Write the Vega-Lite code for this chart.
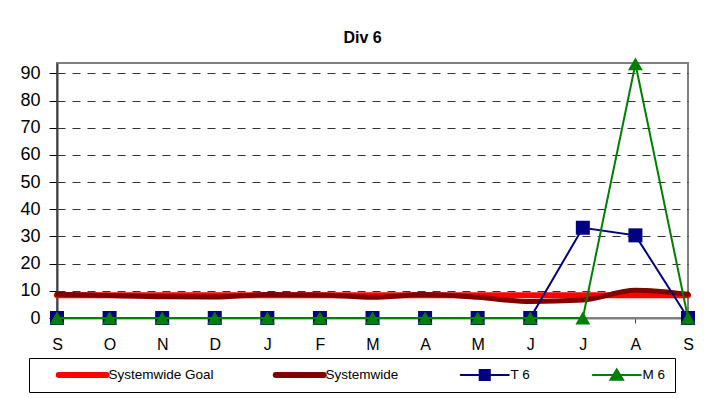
{
  "$schema": "https://vega.github.io/schema/vega-lite/v6.json",
  "width": 631,
  "height": 255,
  "autosize": {"type": "none"},
  "padding": {"left": 57, "top": 63, "right": 18, "bottom": 80},
  "background": "white",
  "title": {"text": "Div 6", "fontSize": 16, "fontWeight": "bold", "font": "Liberation Sans", "color": "black", "offset": 11, "dx": -10},
  "data": {"values": [
    {"m": 0, "series": "Systemwide Goal", "v": 8.4},
    {"m": 1, "series": "Systemwide Goal", "v": 8.4},
    {"m": 2, "series": "Systemwide Goal", "v": 8.4},
    {"m": 3, "series": "Systemwide Goal", "v": 8.4},
    {"m": 4, "series": "Systemwide Goal", "v": 8.4},
    {"m": 5, "series": "Systemwide Goal", "v": 8.4},
    {"m": 6, "series": "Systemwide Goal", "v": 8.4},
    {"m": 7, "series": "Systemwide Goal", "v": 8.4},
    {"m": 8, "series": "Systemwide Goal", "v": 8.4},
    {"m": 9, "series": "Systemwide Goal", "v": 8.4},
    {"m": 10, "series": "Systemwide Goal", "v": 8.4},
    {"m": 11, "series": "Systemwide Goal", "v": 8.4},
    {"m": 12, "series": "Systemwide Goal", "v": 8.4},
    {"m": 0, "series": "Systemwide", "v": 8.7},
    {"m": 1, "series": "Systemwide", "v": 8.3},
    {"m": 2, "series": "Systemwide", "v": 7.8},
    {"m": 3, "series": "Systemwide", "v": 7.7},
    {"m": 4, "series": "Systemwide", "v": 8.6},
    {"m": 5, "series": "Systemwide", "v": 8.5},
    {"m": 6, "series": "Systemwide", "v": 7.6},
    {"m": 7, "series": "Systemwide", "v": 8.6},
    {"m": 8, "series": "Systemwide", "v": 7.6},
    {"m": 9, "series": "Systemwide", "v": 6.1},
    {"m": 10, "series": "Systemwide", "v": 6.6},
    {"m": 11, "series": "Systemwide", "v": 10.2},
    {"m": 12, "series": "Systemwide", "v": 8.7},
    {"m": 0, "series": "T 6", "v": 0},
    {"m": 1, "series": "T 6", "v": 0},
    {"m": 2, "series": "T 6", "v": 0},
    {"m": 3, "series": "T 6", "v": 0},
    {"m": 4, "series": "T 6", "v": 0},
    {"m": 5, "series": "T 6", "v": 0},
    {"m": 6, "series": "T 6", "v": 0},
    {"m": 7, "series": "T 6", "v": 0},
    {"m": 8, "series": "T 6", "v": 0},
    {"m": 9, "series": "T 6", "v": 0},
    {"m": 10, "series": "T 6", "v": 33.2},
    {"m": 11, "series": "T 6", "v": 30.4},
    {"m": 12, "series": "T 6", "v": 0},
    {"m": 0, "series": "M 6", "v": 0},
    {"m": 1, "series": "M 6", "v": 0},
    {"m": 2, "series": "M 6", "v": 0},
    {"m": 3, "series": "M 6", "v": 0},
    {"m": 4, "series": "M 6", "v": 0},
    {"m": 5, "series": "M 6", "v": 0},
    {"m": 6, "series": "M 6", "v": 0},
    {"m": 7, "series": "M 6", "v": 0},
    {"m": 8, "series": "M 6", "v": 0},
    {"m": 9, "series": "M 6", "v": 0},
    {"m": 10, "series": "M 6", "v": 0},
    {"m": 11, "series": "M 6", "v": 93.5},
    {"m": 12, "series": "M 6", "v": 0}
  ]},
  "encoding": {
    "x": {
      "field": "m", "type": "quantitative",
      "scale": {"domain": [0, 12], "nice": false, "zero": false},
      "axis": {
        "title": null, "values": [0,1,2,3,4,5,6,7,8,9,10,11,12],
        "labelExpr": "['S','O','N','D','J','F','M','A','M','J','J','A','S'][datum.value]",
        "grid": false, "domainColor": "#808080", "domainWidth": 2,
        "tickColor": "#404040", "tickSize": 5, "labelFontSize": 16, "labelColor": "black",
        "labelPadding": 13, "labelFont": "Liberation Sans", "labelFlush": false
      }
    },
    "y": {
      "field": "v", "type": "quantitative",
      "scale": {"domain": [0, 93.8], "nice": false},
      "axis": {
        "title": null, "values": [0,10,20,30,40,50,60,70,80,90],
        "grid": true, "gridColor": "#333333", "gridDash": [8, 7], "gridWidth": 1,
        "domainColor": "#404040", "domainWidth": 2, "tickColor": "black", "tickSize": 8,
        "labelFontSize": 18, "labelColor": "black", "labelPadding": 9, "labelFont": "Liberation Sans"
      }
    },
    "color": {
      "field": "series", "type": "nominal",
      "scale": {"domain": ["Systemwide Goal", "Systemwide", "T 6", "M 6"], "range": ["#FF0000", "#800000", "#000080", "#008000"]},
      "legend": {
        "title": " ", "titleOrient": "left", "titlePadding": 17, "titleFontSize": 13, "titleFont": "Liberation Sans",
        "orient": "none", "legendX": -28, "legendY": 295,
        "direction": "horizontal", "columns": 4, "gridAlign": "none",
        "columnPadding": 58, "symbolSize": 2304, "clipHeight": 16,
        "symbolOffset": 21, "labelOffset": 19, "symbolStrokeWidth": 2,
        "labelFont": "Liberation Sans", "labelFontSize": 13.5, "labelColor": "black", "labelLimit": 300,
        "strokeColor": "black", "fillColor": "white", "padding": 9,
        "encode": {
          "symbols": {
            "update": {
              "shape": {"signal": "datum.value === 'T 6' ? 'M-1,0H1M-0.21,-0.21H0.21V0.21H-0.21Z' : datum.value === 'M 6' ? 'M-1,0H1M0,-0.23L0.26,0.2H-0.26Z' : 'M-1,0H1'"},
              "strokeWidth": {"signal": "datum.value === 'Systemwide Goal' || datum.value === 'Systemwide' ? 6 : 2"},
              "stroke": {"signal": "datum.value === 'Systemwide Goal' ? '#FF0000' : datum.value === 'Systemwide' ? '#800000' : datum.value === 'T 6' ? '#000080' : '#008000'"},
              "fill": {"signal": "datum.value === 'Systemwide Goal' ? '#FF0000' : datum.value === 'Systemwide' ? '#800000' : datum.value === 'T 6' ? '#000080' : '#008000'"},
              "strokeCap": {"value": "round"},
              "opacity": {"value": 1}
            }
          }
        }
      }
    }
  },
  "layer": [
    {"transform": [{"filter": "datum.series === 'Systemwide Goal'"}], "mark": {"type": "line", "strokeWidth": 6, "strokeCap": "round", "interpolate": "monotone"}},
    {"transform": [{"filter": "datum.series === 'Systemwide'"}], "mark": {"type": "line", "strokeWidth": 5, "strokeCap": "round", "interpolate": "monotone"}},
    {"transform": [{"filter": "datum.series === 'T 6'"}], "mark": {"type": "line", "strokeWidth": 2}},
    {"transform": [{"filter": "datum.series === 'T 6'"}], "mark": {"type": "point", "shape": "square", "filled": true, "size": 196, "opacity": 1}},
    {"transform": [{"filter": "datum.series === 'M 6'"}], "mark": {"type": "line", "strokeWidth": 2}},
    {"transform": [{"filter": "datum.series === 'M 6'"}], "mark": {"type": "point", "shape": "triangle-up", "filled": true, "size": 220, "opacity": 1}}
  ],
  "config": {
    "font": "Liberation Sans",
    "view": {"stroke": "#808080", "strokeWidth": 2}
  }
}
